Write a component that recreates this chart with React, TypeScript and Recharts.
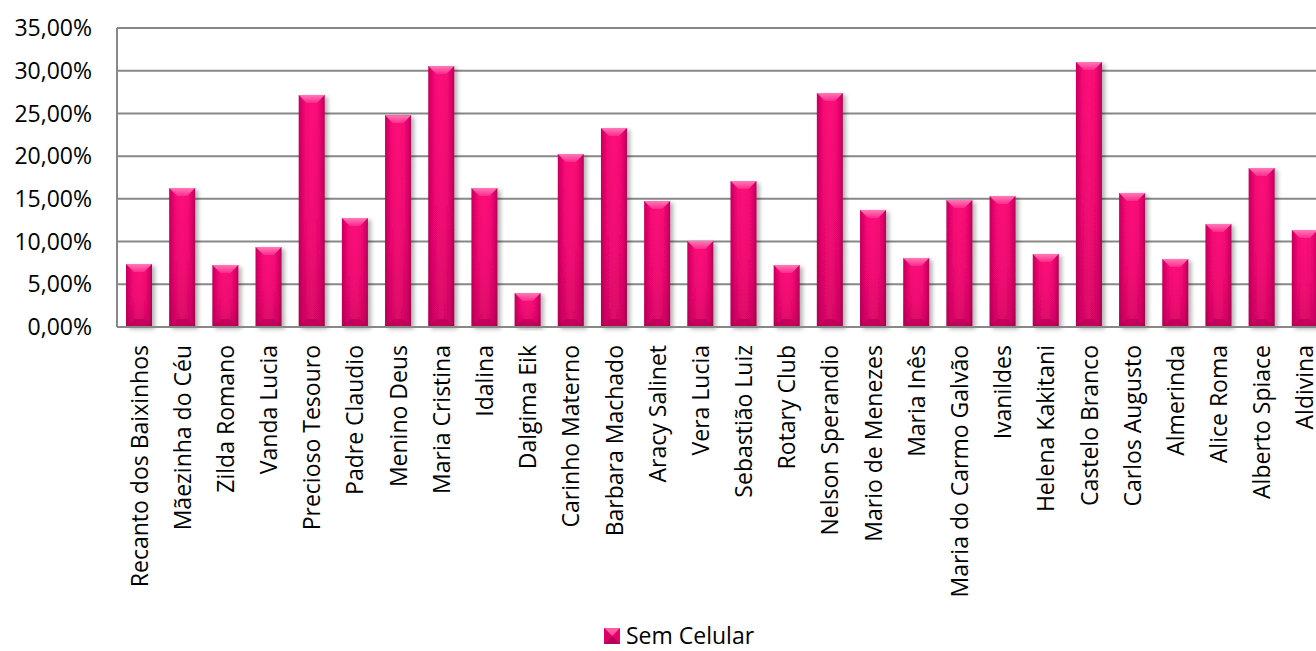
import React from 'react';
import { BarChart, Bar, XAxis, YAxis, CartesianGrid } from 'recharts';

// creches / share of children without a phone
const categories = [
  'Recanto dos Baixinhos', 'Mãezinha do Céu', 'Zilda Romano', 'Vanda Lucia', 'Precioso Tesouro',
  'Padre Claudio', 'Menino Deus', 'Maria Cristina', 'Idalina', 'Dalgima Eik', 'Carinho Materno',
  'Barbara Machado', 'Aracy Salinet', 'Vera Lucia', 'Sebastião Luiz', 'Rotary Club',
  'Nelson Sperandio', 'Mario de Menezes', 'Maria Inês', 'Maria do Carmo Galvão', 'Ivanildes',
  'Helena Kakitani', 'Castelo Branco', 'Carlos Augusto', 'Almerinda', 'Alice Roma',
  'Alberto Spiace', 'Aldivina',
];

const semCelular = [
  0.0737, 0.1627, 0.0726, 0.0936, 0.2716, 0.1276, 0.248, 0.3055, 0.1627, 0.0398, 0.2025,
  0.2329, 0.1475, 0.1007, 0.1709, 0.0726, 0.2739, 0.137, 0.0808, 0.1487, 0.1533, 0.0855,
  0.3102, 0.1569, 0.0796, 0.1206, 0.1861, 0.1135,
];

const yTicks = [0, 0.05, 0.1, 0.15, 0.2, 0.25, 0.3, 0.35];

const data = categories.map((name, i) => ({ name, semCelular: semCelular[i] }));

const FONT = '"Open Sans", sans-serif';

const fmtPct = (v: number) => (v * 100).toFixed(2).replace('.', ',') + '%';

const BarShape = (props: any) => {
  const { x, y, width: w, height: h } = props;
  if (!h || h <= 0) return null;
  const b = Math.min(8, w / 3, h / 2);
  return (
    <g filter="url(#barShadow)">
      <rect x={x} y={y} width={w} height={h} fill="url(#barBody)" />
      <rect x={x} y={y} width={w} height={h} fill="url(#barShade)" />
      <polygon
        points={`${x},${y} ${x + w},${y} ${x + w - b},${y + b} ${x + b},${y + b}`}
        fill="url(#bevelTop)"
      />
      <polygon
        points={`${x},${y + h} ${x + w},${y + h} ${x + w - b},${y + h - b} ${x + b},${y + h - b}`}
        fill="#9e0049"
        opacity={0.35}
      />
    </g>
  );
};

const XTick = (props: any) => {
  const { x, y, payload } = props;
  return (
    <text
      transform={`translate(${x},${y + 18}) rotate(-90)`}
      textAnchor="end"
      dominantBaseline="central"
      fontFamily={FONT}
      fontSize={23}
      fill="#000"
    >
      {payload.value}
    </text>
  );
};

export default function App() {
  return (
    <div
      style={{
        position: 'fixed',
        left: 0,
        top: 0,
        width: 1316,
        height: 651,
        overflow: 'hidden',
        background: '#fff',
      }}
    >
      <BarChart
        width={1330}
        height={651}
        data={data}
        margin={{ top: 28, right: 4, left: 0, bottom: 74 }}
        barSize={26}
      >
        <defs>
          <linearGradient id="barBody" x1="0" y1="0" x2="1" y2="0">
            <stop offset="0%" stopColor="#c2005a" />
            <stop offset="18%" stopColor="#f00672" />
            <stop offset="50%" stopColor="#ff0a7a" />
            <stop offset="82%" stopColor="#f00672" />
            <stop offset="100%" stopColor="#b80055" />
          </linearGradient>
          <linearGradient id="barShade" x1="0" y1="0" x2="0" y2="1">
            <stop offset="0%" stopColor="#5a0028" stopOpacity={0} />
            <stop offset="60%" stopColor="#5a0028" stopOpacity={0.08} />
            <stop offset="100%" stopColor="#5a0028" stopOpacity={0.22} />
          </linearGradient>
          <linearGradient id="bevelTop" x1="0" y1="0" x2="0" y2="1">
            <stop offset="0%" stopColor="#ff7ab8" />
            <stop offset="100%" stopColor="#ff2a8c" />
          </linearGradient>
          <filter id="barShadow" x="-30%" y="-10%" width="160%" height="120%">
            <feDropShadow dx="3" dy="2" stdDeviation="2" floodColor="#000" floodOpacity="0.3" />
          </filter>
        </defs>
        <CartesianGrid vertical={false} stroke="#888" strokeWidth={2} />
        <XAxis
          dataKey="name"
          interval={0}
          height={250}
          tickLine={false}
          tickSize={0}
          tickMargin={0}
          axisLine={{ stroke: '#888', strokeWidth: 2 }}
          tick={<XTick />}
        />
        <YAxis
          width={117}
          domain={[0, 0.35]}
          ticks={yTicks}
          tickFormatter={fmtPct}
          tickLine={false}
          tickMargin={19}
          axisLine={{ stroke: '#888', strokeWidth: 2 }}
          tick={{ fontFamily: FONT, fontSize: 23, fill: '#000' }}
        />
        <Bar dataKey="semCelular" shape={<BarShape />} isAnimationActive={false} />
      </BarChart>
      <div
        style={{
          position: 'absolute',
          left: 604,
          top: 621,
          display: 'flex',
          alignItems: 'center',
          fontFamily: FONT,
          fontSize: 23,
          color: '#000',
          lineHeight: '29px',
        }}
      >
        <svg width={16} height={16} style={{ marginRight: 6 }}>
          <rect x={0} y={0} width={16} height={16} fill="#e8006c" />
          <polygon points="0,0 16,0 8,8" fill="#ff5aa6" />
          <polygon points="0,16 16,16 8,8" fill="#b8005a" />
          <polygon points="0,0 0,16 8,8" fill="#d80064" />
        </svg>
        <span>Sem Celular</span>
      </div>
    </div>
  );
}
